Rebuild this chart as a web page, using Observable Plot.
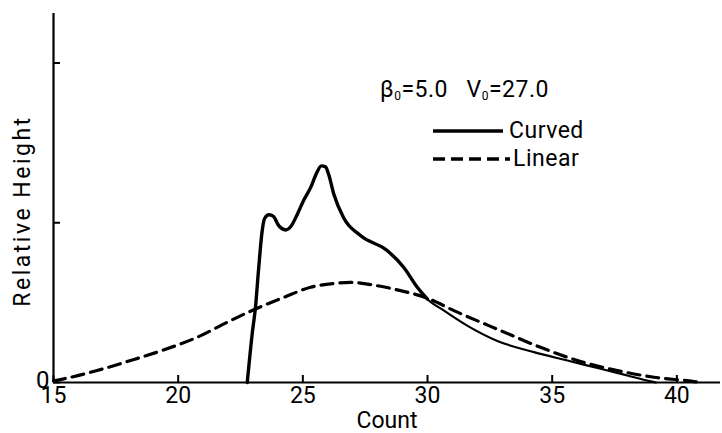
<!DOCTYPE html>
<html><head><meta charset="utf-8">
<script src="https://cdn.jsdelivr.net/npm/d3@7"></script>
<script src="https://cdn.jsdelivr.net/npm/@observablehq/plot@0.6"></script>
<style>
body{margin:0;background:#fff;}
#wrap{position:relative;width:722px;height:433px;font-family:Roboto,sans-serif;color:#000;}
.t{position:absolute;font-size:23px;line-height:23px;white-space:nowrap;letter-spacing:0.5px;}
.t sub{font-size:12px;vertical-align:-3px;}
.sw{position:absolute;}
.ylab{position:absolute;font-size:23px;line-height:23px;white-space:nowrap;letter-spacing:2.5px;transform:translate(-50%,-50%) rotate(-90deg);}
</style></head><body><div id="wrap"></div>
<script>
// Data
const curvedX = [22.77, 22.98, 23.10, 23.22, 23.37, 23.46, 23.64, 23.82, 24.04, 24.31, 24.51, 24.78, 25.03, 25.31, 25.55, 25.74, 25.91, 26.04, 26.24, 26.64, 27.31, 28.39, 29.05, 29.59, 29.99, 30.66, 31.59, 32.80, 34.27, 35.61, 36.94, 38.01, 38.81, 39.15];
const curvedY = [0, 0.32, 0.47, 0.70, 0.95, 1.025, 1.05, 1.04, 0.98, 0.955, 0.975, 1.054, 1.14, 1.22, 1.31, 1.356, 1.35, 1.30, 1.18, 1.03, 0.92, 0.825, 0.72, 0.596, 0.523, 0.45, 0.356, 0.26, 0.19, 0.1375, 0.086, 0.044, 0.0125, 0];
const linearX = [15.0, 15.41, 16.75, 18.09, 19.42, 20.76, 22.1, 23.10, 24.24, 25.31, 26.24, 26.91, 27.98, 28.92, 29.99, 31.06, 32.93, 34.53, 36.01, 37.61, 39.08, 40.68, 40.95];
const linearY = [0.01, 0.023, 0.075, 0.1375, 0.204, 0.283, 0.3875, 0.46, 0.533, 0.596, 0.62, 0.627, 0.606, 0.575, 0.528, 0.45, 0.325, 0.22, 0.1375, 0.075, 0.033, 0.006, 0];
const xTicks = [15, 20, 25, 30, 35, 40];
const yTicks = [0, 1, 2];
const yLabels = ["0", "", ""];
const xLabel = "Count";
const yLabel = "Relative Height";
const seriesNames = ["Curved", "Linear"];

const curved = curvedX.map((x, i) => ({x, y: curvedY[i]}));
const linear = linearX.map((x, i) => ({x, y: linearY[i]}));
const splitAt = 30;

const plot = Plot.plot({
  width: 722, height: 433,
  marginLeft: 53, marginRight: 2, marginTop: 13, marginBottom: 51,
  style: {fontFamily: "Roboto, sans-serif", fontSize: "23px", color: "#000", background: "#fff", overflow: "visible"},
  x: {domain: [15, 41.75]},
  y: {domain: [0, 2.31]},
  marks: [
    Plot.ruleY([0], {strokeWidth: 2.2}),
    Plot.ruleX([15], {strokeWidth: 2.2}),
    Plot.axisX({ticks: xTicks, tickSize: -7, tickFormat: () => "", strokeWidth: 2, label: null}),
    Plot.axisX({ticks: xTicks, tickSize: 0, tickPadding: 4, label: null, fontSize: 23}),
    Plot.axisY({ticks: yTicks, tickSize: -7, tickFormat: () => "", strokeWidth: 2, label: null}),
    Plot.axisY({ticks: yTicks, tickSize: 0, tickPadding: 4, dy: -2, tickFormat: (d, i) => yLabels[i], label: null, fontSize: 24}),
    Plot.text([xLabel], {frameAnchor: "bottom", lineAnchor: "middle", dy: 38, fontSize: 23, text: d => d}),
    Plot.line(linear, {x: "x", y: "y", stroke: "#000", strokeWidth: 3.2, strokeDasharray: "12,7", curve: "monotone-x"}),
    Plot.line(curved.filter(d => d.x <= splitAt), {x: "x", y: "y", stroke: "#000", strokeWidth: 3.4, curve: "monotone-x"}),
    Plot.line(curved.filter(d => d.x >= splitAt - 0.5), {x: "x", y: "y", stroke: "#000", strokeWidth: 2.2, curve: "monotone-x"})
  ]
});
const wrap = document.getElementById("wrap");
wrap.appendChild(plot);

const yl = document.createElement("div");
yl.className = "ylab";
yl.style.left = "22px"; yl.style.top = "211px";
yl.textContent = yLabel;
wrap.appendChild(yl);

const ann = document.createElement("div");
ann.className = "t";
ann.style.left = "380px"; ann.style.top = "78px";
ann.innerHTML = "β<sub>0</sub>=5.0&nbsp;&nbsp;&nbsp;V<sub>0</sub>=27.0";
wrap.appendChild(ann);

function legendRow(name, dash, yc, x0, x1, tx) {
  const s = document.createElementNS("http://www.w3.org/2000/svg", "svg");
  s.setAttribute("class", "sw");
  s.setAttribute("width", x1 - x0); s.setAttribute("height", 8);
  s.style.left = x0 + "px"; s.style.top = (yc - 4) + "px";
  const l = document.createElementNS("http://www.w3.org/2000/svg", "line");
  l.setAttribute("x1", 0); l.setAttribute("x2", x1 - x0);
  l.setAttribute("y1", 4); l.setAttribute("y2", 4);
  l.setAttribute("stroke", "#000"); l.setAttribute("stroke-width", 3.4);
  if (dash) l.setAttribute("stroke-dasharray", dash);
  s.appendChild(l);
  wrap.appendChild(s);
  const t = document.createElement("div");
  t.className = "t"; t.textContent = name;
  t.style.left = tx + "px"; t.style.top = (yc - 12) + "px";
  wrap.appendChild(t);
}
legendRow(seriesNames[0], null, 131, 433, 503, 509);
legendRow(seriesNames[1], "12,6", 159, 433, 510, 513);
</script></body></html>
